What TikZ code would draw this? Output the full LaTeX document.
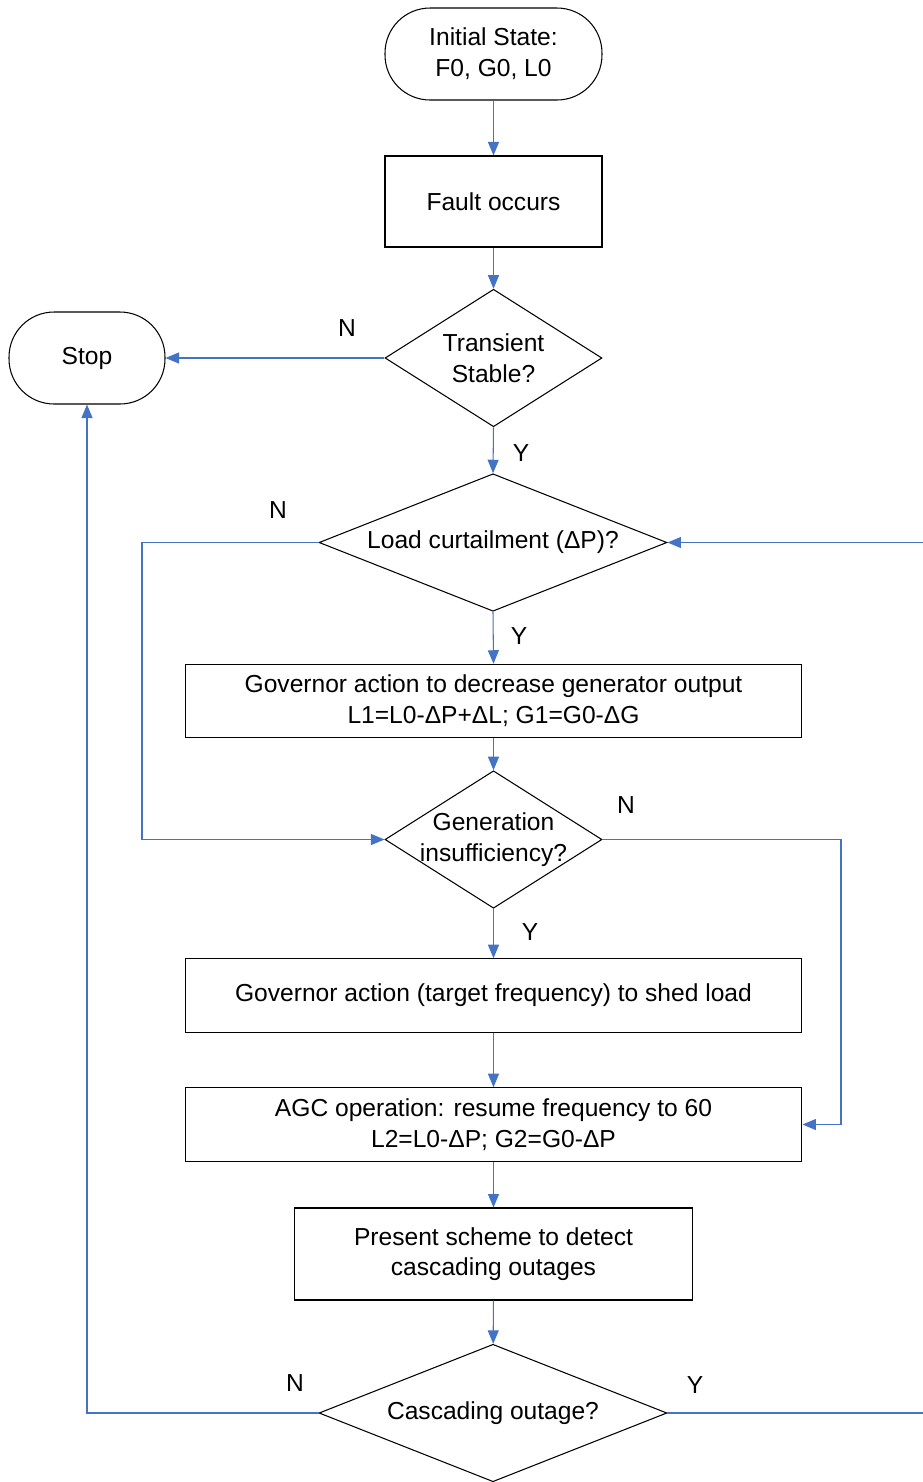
\documentclass[tikz,border=0pt]{standalone}
\usepackage{fontspec}
\setmainfont{Liberation Sans}
\usetikzlibrary{shapes.geometric,arrows.meta}
\definecolor{fcblue}{HTML}{4472C4}

\begin{document}
\begin{tikzpicture}[x=0.02cm, y=-0.02cm,
  every node/.style={font=\fontsize{14}{17.5}\selectfont},
  terminal/.style={draw=black, line width=0.6pt, rounded corners=0.9cm, minimum width=#1, minimum height=1.84cm, align=center, inner sep=1pt},
  process/.style={draw=black, line width=0.6pt, minimum width=#1, minimum height=1.47cm, align=center, inner sep=1pt},
  decision/.style 2 args={draw=black, line width=0.6pt, diamond, shape aspect=#2, minimum width=#1, minimum height=2.75cm, align=center, inner sep=-5pt},
  flow/.style={draw=fcblue, line width=0.6pt, -{Triangle[length=0.27cm, width=0.22cm]}}]
  \useasboundingbox (0,0) rectangle (923,1482);
  \clip (0,0) rectangle (923,1482);
  \node[terminal=4.34cm] (init) at (493.5,54) {Initial State:\\F0, G0, L0};
  \node[process=4.34cm, minimum height=1.82cm] (fault) at (493.5,201.5) {Fault occurs};
  \node[decision={4.34cm}{1.6}] (trans) at (493.5,358) {Transient\\Stable?};
  \node[terminal=3.12cm] (stop) at (87,358) {Stop};
  \node[decision={6.96cm}{2.5}] (curt) at (493,542.5) {Load curtailment (ΔP)?};
  \node[process=12.34cm] (gov) at (493.5,701) {Governor action to decrease generator output\\L1=L0-ΔP+ΔL; G1=G0-ΔG};
  \node[decision={4.34cm}{1.6}] (gen) at (493.5,839.5) {Generation\\insufficiency?};
  \node[process=12.34cm] (shed) at (493.5,995.5) {Governor action (target frequency) to shed load};
  \node[process=12.34cm] (agc) at (493.5,1124.5) {AGC operation: resume frequency to 60\\L2=L0-ΔP; G2=G0-ΔP};
  \node[process=7.98cm, minimum height=1.84cm] (scheme) at (493.5,1254) {Present scheme to detect\\cascading outages};
  \node[decision={6.96cm}{2.5}] (casc) at (493,1413) {Cascading outage?};
  \coordinate (lbend) at (142,542.5);
  \coordinate (rbend) at (841,839.5);
  \coordinate (loop) at (960,1413);
  \draw[flow] (init) -- (fault);
  \draw[flow] (fault) -- (trans);
  \draw[flow] (trans.west) -- (stop.east);
  \draw[flow] (trans.south) -- (curt.north);
  \draw[flow] (curt.west) -- (lbend) |- (gen.west);
  \draw[flow] (curt.south) -- (gov.north);
  \draw[flow] (gov) -- (gen);
  \draw[flow] (gen.east) -- (rbend) |- (agc.east);
  \draw[flow] (gen.south) -- (shed.north);
  \draw[flow] (shed) -- (agc);
  \draw[flow] (agc) -- (scheme);
  \draw[flow] (scheme) -- (casc);
  \draw[flow] (casc.west) -| (stop.south);
  \draw[flow] (casc.east) -- (loop) |- (curt.east);
  \node (ntrans) at (347,328) {N};
  \node (ytrans) at (521,453) {Y};
  \node (ncurt) at (278,510) {N};
  \node (ycurt) at (519,636) {Y};
  \node (ngen) at (626,805) {N};
  \node (ygen) at (530,932) {Y};
  \node (ncasc) at (295,1383) {N};
  \node (ycasc) at (695,1385) {Y};
\end{tikzpicture}
\end{document}
